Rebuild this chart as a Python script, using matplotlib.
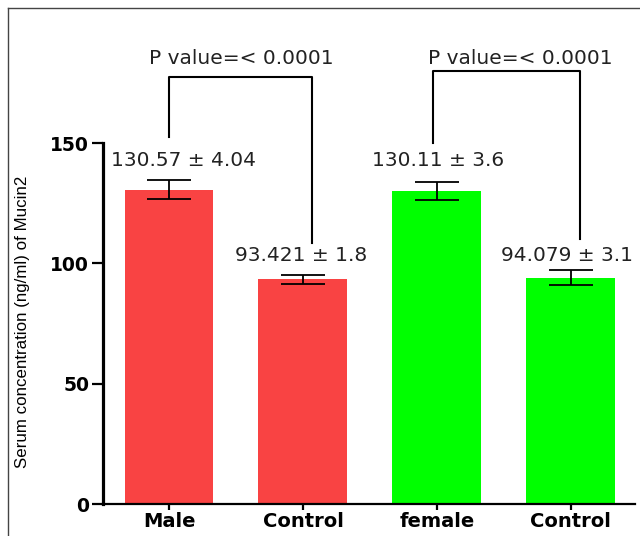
import matplotlib.pyplot as plt
from matplotlib.lines import Line2D
import numpy as np

categories = ['Male', 'Control', 'female', 'Control']
means = [130.57, 93.421, 130.11, 94.079]
sems = [4.04, 1.8, 3.6, 3.1]
value_labels = ['130.57 ± 4.04', '93.421 ± 1.8', '130.11 ± 3.6', '94.079 ± 3.1']
colors = ['#F94343', '#F94343', '#00FF00', '#00FF00']
p_text = 'P value=< 0.0001'

fig = plt.figure(figsize=(6.4, 5.36), dpi=100)
ax = fig.add_axes([0.161, 0.0597, 0.831, 0.6735])

x = np.arange(len(categories))
ax.bar(x, means, width=0.664, color=colors, zorder=2)
ax.errorbar(x, means, yerr=sems, fmt='none', ecolor='black',
            elinewidth=1.3, capsize=16, capthick=1.3, zorder=3)

# mean +- sem labels above bars
label_x = [0.11, 0.99, 2.01, 2.97]
label_y = [142.9, 103.4, 142.9, 103.4]
for lx, ly, s in zip(label_x, label_y, value_labels):
    ax.text(lx, ly, s, ha='center', va='center', fontsize=14.5,
            color='#222222', family='DejaVu Sans', clip_on=False)

# significance brackets
brackets = [(0, 1.07, 152.5, 177.4, 108.4, 0.54),
            (1.97, 3.07, 150.0, 179.9, 110.1, 2.62)]
for x0, x1, yl, ytop, yr, tx in brackets:
    ax.plot([x0, x0, x1, x1], [yl, ytop, ytop, yr], color='black',
            lw=1.5, clip_on=False, zorder=4)
    ax.text(tx, 185.3, p_text, ha='center', va='center', fontsize=14.5,
            color='#222222', family='DejaVu Sans', clip_on=False)

ax.set_xlim(-0.4925, 3.478)
ax.set_ylim(0, 150)
ax.set_yticks([0, 50, 100, 150])
ax.set_xticks(x)
ax.set_xticklabels(categories, fontsize=14, fontweight='bold',
                   family='DejaVu Sans')
for lab in ax.get_yticklabels():
    lab.set_fontsize(13.5)
    lab.set_fontweight('bold')
    lab.set_family('DejaVu Sans')
ax.tick_params(axis='y', length=8, width=1.6, pad=2)
ax.tick_params(axis='x', length=4, width=1.6, pad=2)

ax.spines['top'].set_visible(False)
ax.spines['right'].set_visible(False)
ax.spines['left'].set_linewidth(2.3)
ax.spines['bottom'].set_linewidth(1.6)

ax.set_ylabel('Serum concentration (ng/ml) of Mucin2', fontsize=12.2,
              family='Liberation Sans')
ax.yaxis.set_label_coords(-0.138, 0.504)

# frame around the picture
fig.add_artist(Line2D([8 / 640, 1.0], [1 - 8 / 536, 1 - 8 / 536],
                      transform=fig.transFigure, color='#444444', lw=1.0))
fig.add_artist(Line2D([8 / 640, 8 / 640], [0.0, 1 - 8 / 536],
                      transform=fig.transFigure, color='#444444', lw=1.0))

fig.savefig('out.png', dpi=100)
